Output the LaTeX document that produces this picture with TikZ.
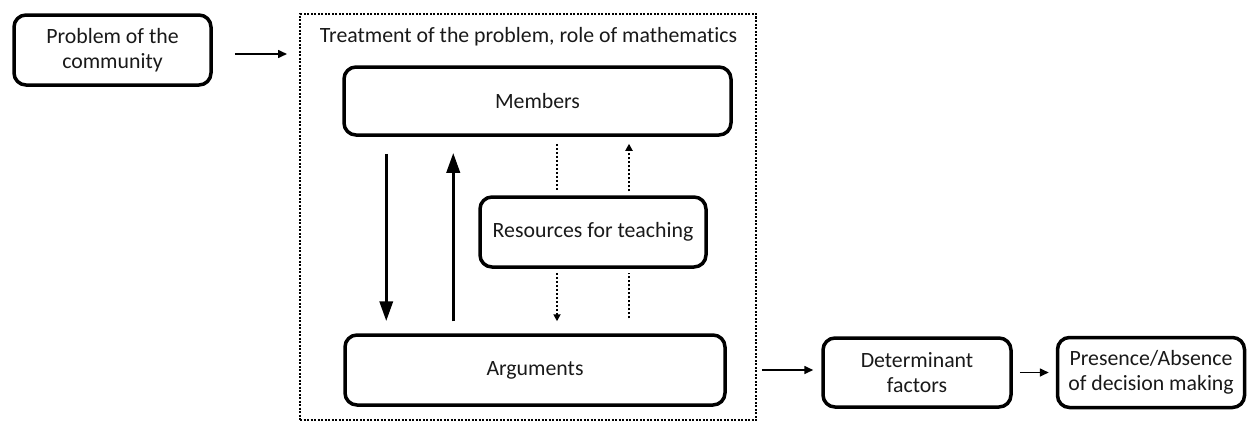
\documentclass[tikz,border=0pt]{standalone}
\usepackage{fontspec}
\setmainfont{Carlito}[Ligatures=NoCommon]
\usetikzlibrary{arrows.meta,positioning}

\begin{document}
\begin{tikzpicture}[x=1pt,y=-1pt,font=\fontsize{21.8}{25}\selectfont,text=black!90,
   b/.style={draw,line width=3.5pt,rounded corners=12pt,align=center,inner sep=0pt},
   arr/.style={-{Triangle[length=9pt,width=8pt]},line width=1.6pt},
   bigarr/.style={-{Triangle[length=20pt,width=13pt]},line width=3.5pt},
   dots/.style={line width=2pt,dash pattern=on 2pt off 2pt},
   dotarr/.style={dots,-{Triangle[length=7pt,width=7pt]}}]
  \useasboundingbox (0,0) rectangle (1247,423);
  % outer boxes
  \node[b,minimum width=197pt,minimum height=70pt] (prob) at (112.5,50) {Problem of the\\community};
  \node[draw,line width=2pt,dash pattern=on 2pt off 1.5pt,inner sep=0pt,
        minimum width=456pt,minimum height=406pt] (frame) at (528,217) {};
  \node[anchor=base] (title) at (528.5,42) {Treatment of the problem, role of mathematics};
  % inside the frame
  \node[b,minimum width=387pt,minimum height=68pt] (mem) at (537.5,101) {Members};
  \node[b,minimum width=226pt,minimum height=70pt] (res) at (593,232) {Resources for teaching};
  \node[b,minimum width=380pt,minimum height=70pt] (arg) at (535,370) {Arguments};
  % right chain
  \node[b,minimum width=188pt,minimum height=69pt] (det) at (917,372.5) {Determinant\\factors};
  \node[b,minimum width=187pt,minimum height=70pt,right=43pt of det] (pres) {Presence/Absence\\of decision making};
  % helper points
  \coordinate (pa) at ([yshift=-4pt]prob.east);
  \coordinate (sl) at ([xshift=44pt]mem.south west);
  \coordinate (sr) at ([xshift=111pt]mem.south west);
  \coordinate (dl) at ([xshift=-36pt]res.north);
  \coordinate (dr) at ([xshift=36pt]res.north);
  % connectors
  \draw[arr,shorten <=22pt,shorten >=12pt] (pa) -- (pa -| frame.west);
  \draw[bigarr,shorten <=17pt,shorten >=12pt] (sl) -- (sl |- arg.north);
  \draw[bigarr,shorten <=12pt,shorten >=16pt] (sr |- arg.north) -- (sr);
  \draw[dots,shorten <=7pt,shorten >=4pt] (dl |- mem.south) -- (dl);
  \draw[dotarr,shorten <=4pt,shorten >=12pt] (dl |- res.south) -- (dl |- arg.north);
  \draw[dots,shorten <=15pt,shorten >=4pt] (dr |- arg.north) -- (dr |- res.south);
  \draw[dotarr,shorten <=4pt,shorten >=7pt] (dr) -- (dr |- mem.south);
  \draw[arr,shorten <=35pt,shorten >=8pt] (arg.east) -- (arg.east -| det.west);
  \draw[arr,shorten <=7pt,shorten >=7pt] (det.east) -- (pres.west);
\end{tikzpicture}
\end{document}
